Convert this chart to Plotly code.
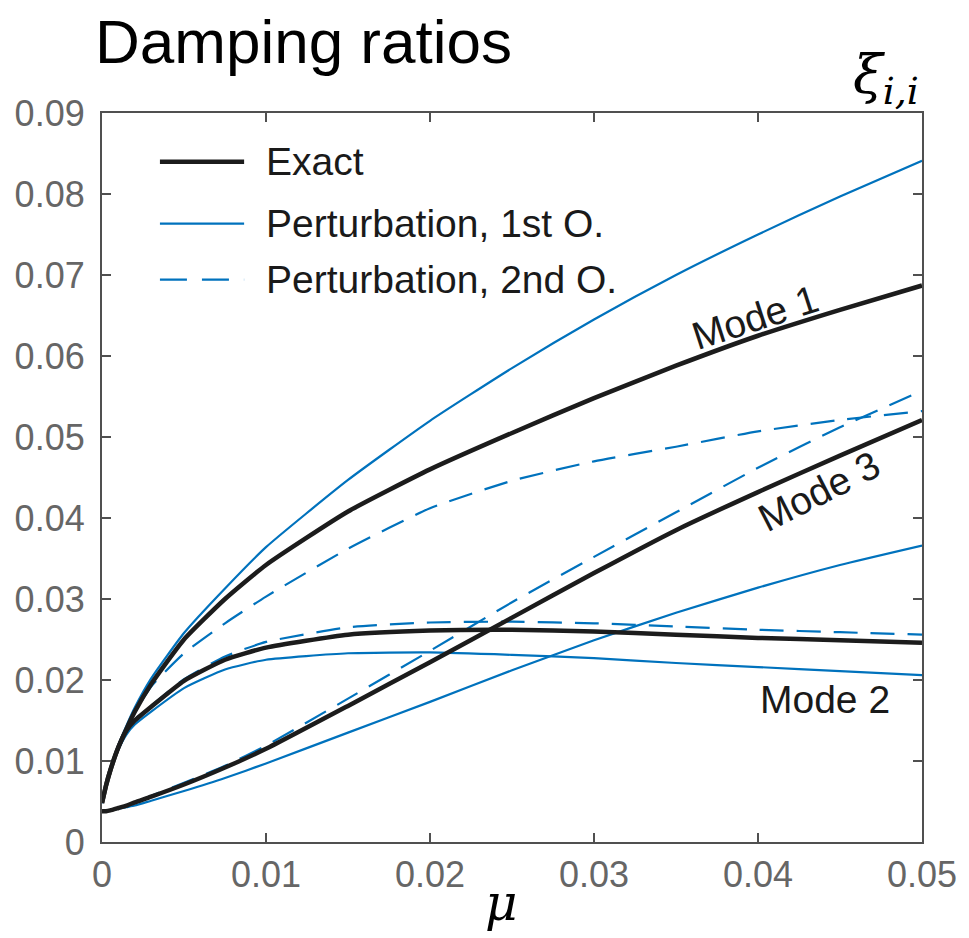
import plotly.graph_objects as go

mu = [0, 0.00025, 0.0005, 0.001, 0.0015, 0.002, 0.003, 0.005, 0.0075, 0.01, 0.015, 0.02, 0.025, 0.03, 0.035, 0.04, 0.045, 0.05]

mode1_exact = [0.0048, 0.0070, 0.0088, 0.0117, 0.0140, 0.0161, 0.0195, 0.0250, 0.0300, 0.0342, 0.0408, 0.0460, 0.0505, 0.0548, 0.0588, 0.0625, 0.0657, 0.0687]
mode1_1st   = [0.0048, 0.0071, 0.0090, 0.0120, 0.0144, 0.0166, 0.0202, 0.0258, 0.0313, 0.0364, 0.0447, 0.0520, 0.0585, 0.0645, 0.0700, 0.0750, 0.0797, 0.0841]
mode1_2nd   = [0.0048, 0.0070, 0.0088, 0.0117, 0.0140, 0.0160, 0.0192, 0.0233, 0.0270, 0.0303, 0.0362, 0.0412, 0.0446, 0.0470, 0.0488, 0.0507, 0.0521, 0.0532]

mode2_exact = [0.0048, 0.0070, 0.0088, 0.0117, 0.0138, 0.0150, 0.0167, 0.0199, 0.0225, 0.0240, 0.0256, 0.0261, 0.0262, 0.0260, 0.0256, 0.0252, 0.0249, 0.0246]
mode2_1st   = [0.0048, 0.0069, 0.0087, 0.0114, 0.0133, 0.0145, 0.0161, 0.0190, 0.0213, 0.0225, 0.0233, 0.0234, 0.0231, 0.0227, 0.0221, 0.0216, 0.0211, 0.0206]
mode2_2nd   = [0.0048, 0.0070, 0.0088, 0.0117, 0.0138, 0.0151, 0.0168, 0.0201, 0.0229, 0.0247, 0.0265, 0.0271, 0.0272, 0.0270, 0.0266, 0.0262, 0.0259, 0.0256]

mode3_exact = [0.0038, 0.0038, 0.0039, 0.0042, 0.0045, 0.0049, 0.0056, 0.0071, 0.0092, 0.0115, 0.0168, 0.0222, 0.0277, 0.0332, 0.0385, 0.0432, 0.0477, 0.0521]
mode3_1st   = [0.0038, 0.0038, 0.0039, 0.0041, 0.0043, 0.0045, 0.0051, 0.0063, 0.0079, 0.0097, 0.0135, 0.0173, 0.0212, 0.0249, 0.0283, 0.0314, 0.0342, 0.0366]
mode3_2nd   = [0.0038, 0.0038, 0.0039, 0.0042, 0.0045, 0.0049, 0.0057, 0.0073, 0.0094, 0.0119, 0.0177, 0.0236, 0.0296, 0.0352, 0.0407, 0.0462, 0.0512, 0.0557]

x_ticks = [0, 0.01, 0.02, 0.03, 0.04, 0.05]
x_tick_labels = ["0", "0.01", "0.02", "0.03", "0.04", "0.05"]
y_ticks = [0, 0.01, 0.02, 0.03, 0.04, 0.05, 0.06, 0.07, 0.08, 0.09]
y_tick_labels = ["0", "0.01", "0.02", "0.03", "0.04", "0.05", "0.06", "0.07", "0.08", "0.09"]

legend_labels = ["Exact", "Perturbation, 1st O.", "Perturbation, 2nd O."]

BLUE = "#0072BD"
BLACK = "#1c1c1c"
DASH = "24px,13px"
FONT = "Liberation Sans"

fig = go.Figure()

for ys in [mode1_1st, mode2_1st, mode3_1st]:
    fig.add_trace(go.Scatter(x=mu, y=ys, mode="lines", line=dict(color=BLUE, width=2.2, shape="spline", smoothing=0.5), showlegend=False, hoverinfo="skip"))
for ys in [mode1_2nd, mode2_2nd, mode3_2nd]:
    fig.add_trace(go.Scatter(x=mu, y=ys, mode="lines", line=dict(color=BLUE, width=2.2, dash=DASH, shape="spline", smoothing=0.5), showlegend=False, hoverinfo="skip"))
for ys in [mode1_exact, mode2_exact, mode3_exact]:
    fig.add_trace(go.Scatter(x=mu, y=ys, mode="lines", line=dict(color=BLACK, width=4.5, shape="spline", smoothing=0.5), showlegend=False, hoverinfo="skip"))

W, H = 969, 938
L, R, T, B = 101.5, 39.5, 113.3, 95.5
pw, ph = W - L - R, H - T - B

def px2paper(px, py):
    return (px - L) / pw, (H - B - py) / ph

# manual legend (long line samples as in the reference)
legend_rows = [(162, dict(color=BLACK, width=4.5)), (224, dict(color=BLUE, width=2.2)), (280, dict(color=BLUE, width=2.2, dash="27px,15px"))]
for (py, ln), lab in zip(legend_rows, legend_labels):
    x0, y0 = px2paper(160, py)
    x1, _ = px2paper(245, py)
    fig.add_shape(type="line", xref="paper", yref="paper", x0=x0, x1=x1, y0=y0, y1=y0, line=ln)
    tx, ty = px2paper(265, py)
    fig.add_annotation(xref="paper", yref="paper", x=tx, y=ty, text=lab, showarrow=False,
                       xanchor="left", yanchor="middle", font=dict(family=FONT, size=39, color="#1a1a1a"))

# mode labels
fig.add_annotation(x=0.0398, y=0.0648, text="Mode 1", showarrow=False, textangle=-18,
                   font=dict(family=FONT, size=39, color="#1a1a1a"))
fig.add_annotation(x=0.0437, y=0.0433, text="Mode 3", showarrow=False, textangle=-27,
                   font=dict(family=FONT, size=39, color="#1a1a1a"))
fig.add_annotation(x=0.0441, y=0.0176, text="Mode 2", showarrow=False,
                   font=dict(family=FONT, size=39, color="#1a1a1a"))

# title and axis symbols
fig.add_annotation(xref="paper", yref="paper", x=px2paper(92, 0)[0], y=px2paper(0, 42)[1], text="Damping ratios",
                   showarrow=False, xanchor="left", yanchor="middle", font=dict(family=FONT, size=62, color="#000000"))
fig.add_annotation(xref="paper", yref="paper", x=px2paper(928, 0)[0], y=px2paper(0, 78)[1],
                   text="<i>ξ</i><sub><i>i,i</i></sub>", showarrow=False, xanchor="right", yanchor="middle",
                   font=dict(family="DejaVu Serif", size=54, color="#000000"))
fig.add_annotation(xref="paper", yref="paper", x=px2paper(505, 0)[0], y=px2paper(0, 904)[1],
                   text="<i>μ</i>", showarrow=False, xanchor="center", yanchor="middle",
                   font=dict(family="DejaVu Serif", size=50, color="#000000"))

axis_common = dict(showline=True, linecolor="#505050", linewidth=2.2, mirror="ticks", ticks="inside",
                   ticklen=9, tickwidth=2, tickcolor="#505050", showgrid=False, zeroline=False,
                   tickfont=dict(family=FONT, size=36, color="#666666"))

fig.update_xaxes(range=[0, 0.05], tickvals=x_ticks, ticktext=x_tick_labels, ticklabelstandoff=0, **axis_common)
fig.update_yaxes(range=[0, 0.09], tickvals=y_ticks, ticktext=y_tick_labels, ticklabelstandoff=8, **axis_common)

fig.update_layout(width=W, height=H, margin=dict(l=L, r=R, t=T, b=B, pad=0),
                  paper_bgcolor="white", plot_bgcolor="white", showlegend=False)

fig.write_html("out.html")
